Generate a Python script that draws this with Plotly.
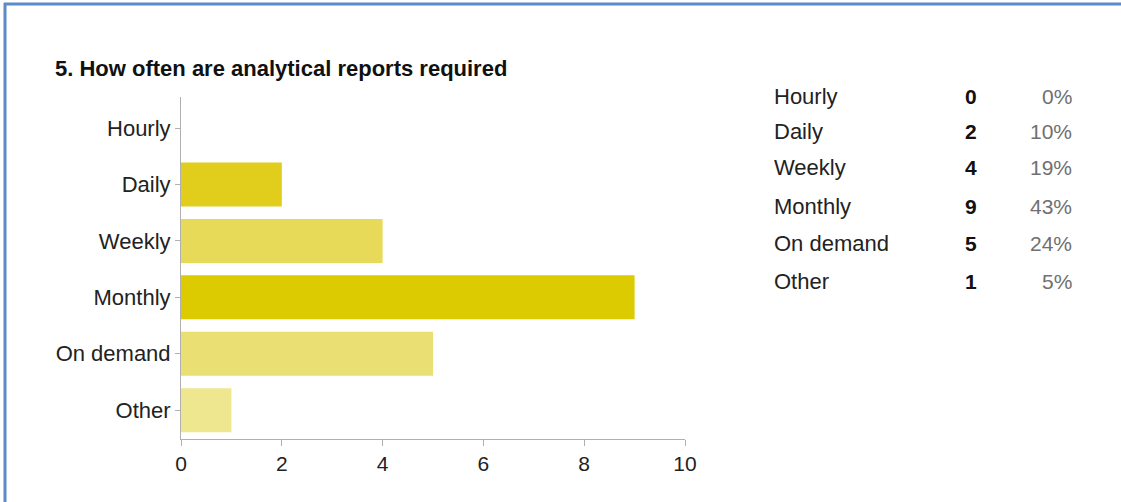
import plotly.graph_objects as go

# Survey question 5: how often analytical reports are required
categories = ["Hourly", "Daily", "Weekly", "Monthly", "On demand", "Other"]
counts = [0, 2, 4, 9, 5, 1]
bar_colors = ["#d9c700", "#e0cd1c", "#e6da58", "#dccb00", "#e9df73", "#efe690"]
x_ticks = [0, 2, 4, 6, 8, 10]
title_text = "5. How often are analytical reports required"

W, H = 1121, 502
total = sum(counts)
percents = [f"{round(c / total * 100)}%" for c in counts]


def px_x(x):
    return x / W


def px_y(y):
    return 1 - y / H


fig = go.Figure()
fig.add_trace(go.Bar(
    x=counts,
    y=categories,
    orientation="h",
    width=0.78,
    marker=dict(color=bar_colors, line=dict(width=0)),
    hoverinfo="x+y",
    showlegend=False,
))

font_main = "Liberation Sans, Arial, sans-serif"

fig.update_layout(
    width=W,
    height=H,
    margin=dict(l=0, r=0, t=0, b=0),
    paper_bgcolor="white",
    plot_bgcolor="white",
    font=dict(family=font_main, size=22, color="#222222"),
    xaxis=dict(
        domain=[px_x(181), px_x(685)],
        range=[0, 10],
        tickvals=x_ticks,
        ticktext=[str(v) for v in x_ticks],
        showgrid=False,
        zeroline=False,
        showline=True,
        linecolor="#b0b0b0",
        linewidth=1,
        ticks="outside",
        ticklen=6,
        tickcolor="#b0b0b0",
        tickfont=dict(size=21, color="#222222"),
        automargin=False,
        fixedrange=True,
    ),
    yaxis=dict(
        domain=[px_y(439), px_y(97)],
        categoryorder="array",
        categoryarray=categories,
        range=[5.51, -0.55],
        showgrid=False,
        zeroline=False,
        showline=True,
        linecolor="#b0b0b0",
        linewidth=1,
        ticks="outside",
        ticklen=5,
        tickcolor="#b0b0b0",
        tickfont=dict(size=22, color="#222222"),
        automargin=False,
        fixedrange=True,
    ),
)

# Title
fig.add_annotation(
    text=f"<b>{title_text}</b>",
    xref="paper", yref="paper",
    x=px_x(53), y=px_y(68),
    xanchor="left", yanchor="middle",
    showarrow=False,
    font=dict(family=font_main, size=22, color="#111111"),
)

# Summary table on the right: answer, count, share
row_y = [96, 131, 168, 206, 243, 281]
for name, c, p, ry in zip(categories, counts, percents, row_y):
    fig.add_annotation(
        text=name, xref="paper", yref="paper",
        x=px_x(772), y=px_y(ry), xanchor="left", yanchor="middle",
        showarrow=False, font=dict(size=22, color="#222222"),
    )
    fig.add_annotation(
        text=f"<b>{c}</b>", xref="paper", yref="paper",
        x=px_x(971), y=px_y(ry), xanchor="center", yanchor="middle",
        showarrow=False, font=dict(size=21, color="#111111"),
    )
    fig.add_annotation(
        text=p, xref="paper", yref="paper",
        x=px_x(1074), y=px_y(ry), xanchor="right", yanchor="middle",
        showarrow=False, font=dict(size=21, color="#707070"),
    )

# Blue frame along the top and left edges
frame_color = "#5b8cc8"
fig.add_shape(type="line", xref="paper", yref="paper",
              x0=px_x(4), x1=1, y0=px_y(4), y1=px_y(4),
              line=dict(color=frame_color, width=3))
fig.add_shape(type="line", xref="paper", yref="paper",
              x0=px_x(5), x1=px_x(5), y0=px_y(3), y1=0,
              line=dict(color=frame_color, width=3))

fig.write_html("out.html")
